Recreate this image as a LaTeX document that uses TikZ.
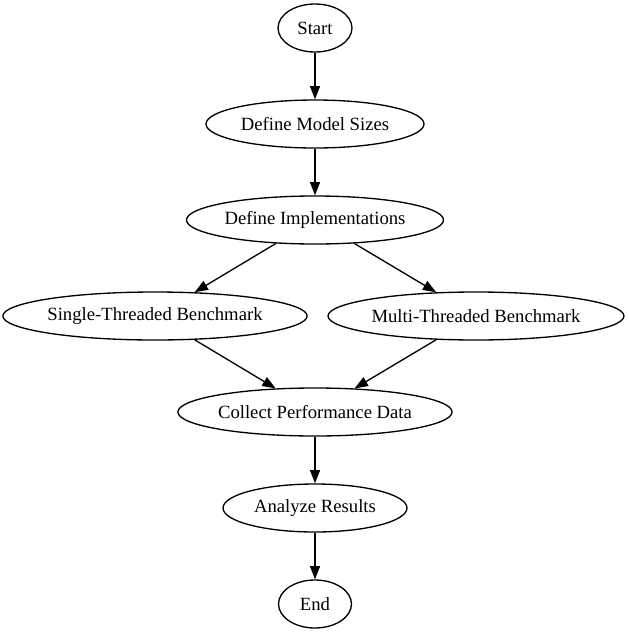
\documentclass[tikz,border=0pt]{standalone}
\usepackage{fontspec}
\setmainfont{Liberation Serif}
\usetikzlibrary{positioning,arrows.meta,shapes.geometric}

\begin{document}
\begin{tikzpicture}[
    x=1pt, y=-1pt,
    node distance=46.67pt,
    stage/.style={draw, ellipse, line width=1.33pt, inner sep=0pt, minimum height=48pt, font=\fontsize{18.67}{22}\selectfont},
    arrow/.style={-{Triangle[length=13.3pt, width=10pt]}, line width=1.33pt},
]
\useasboundingbox (0,0) rectangle (629,635);
\node[stage, minimum width=74pt] (start) at (315,28) {Start};
\node[stage, minimum width=218pt, below=of start] (sizes) {Define Model Sizes};
\node[stage, minimum width=257pt, below=of sizes] (impl) {Define Implementations};
% the two benchmark branches
\node[stage, minimum width=300pt, below=of impl, xshift=-160pt] (single) {Single-Threaded Benchmark};
\node[stage, minimum width=296pt, below=of impl, xshift=161pt] (multi) {Multi-Threaded Benchmark};
\node[stage, minimum width=274pt, below=of single, xshift=160pt] (collect) {Collect Performance Data};
\node[stage, minimum width=184pt, below=of collect] (analyze) {Analyze Results};
\node[stage, minimum width=73pt, below=of analyze] (end) {End};
\draw[arrow] (start) -- (sizes);
\draw[arrow] (sizes) -- (impl);
\draw[arrow] (impl) -- (single);
\draw[arrow] (impl) -- (multi);
\draw[arrow] (single) -- (collect);
\draw[arrow] (multi) -- (collect);
\draw[arrow] (collect) -- (analyze);
\draw[arrow] (analyze) -- (end);
\end{tikzpicture}
\end{document}
